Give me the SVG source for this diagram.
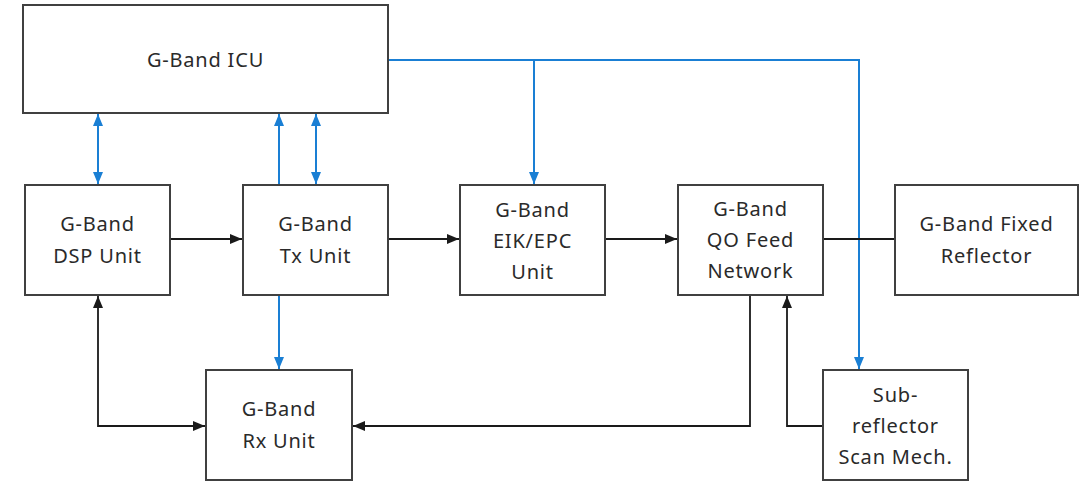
<svg xmlns="http://www.w3.org/2000/svg" width="1092" height="483" viewBox="0 0 1092 483">
<style>
.box{fill:#fff;stroke:#404040;stroke-width:2}
.t{font-family:"Noto Sans","Open Sans",sans-serif;font-size:20px;letter-spacing:0.8px;fill:#2a2a2a;text-anchor:middle}
.k{fill:none;stroke:#1a1a1a;stroke-width:1.8}
.b{fill:none;stroke:#1a7fd4;stroke-width:2}
</style>
<defs>
<marker id="ak" markerUnits="userSpaceOnUse" markerWidth="12" markerHeight="12" viewBox="0 0 12 12" refX="12" refY="6" orient="auto-start-reverse"><path d="M0,1 L12,6 L0,11 z" fill="#1a1a1a"/></marker>
<marker id="ab" markerUnits="userSpaceOnUse" markerWidth="12" markerHeight="12" viewBox="0 0 12 12" refX="12" refY="6" orient="auto-start-reverse"><path d="M0,1 L12,6 L0,11 z" fill="#1a7fd4"/></marker>
</defs>
<rect width="1092" height="483" fill="#fff"/>
<g id="connectors">
<line class="b" x1="98" y1="114" x2="98" y2="184" marker-start="url(#ab)" marker-end="url(#ab)"/>
<line class="b" x1="279" y1="185" x2="279" y2="114" marker-end="url(#ab)"/>
<line class="b" x1="316" y1="114" x2="316" y2="184" marker-start="url(#ab)" marker-end="url(#ab)"/>
<polyline class="b" points="388,60 859,60 859,369" marker-end="url(#ab)"/>
<line class="b" x1="534" y1="60" x2="534" y2="184" marker-end="url(#ab)"/>
<line class="b" x1="279" y1="295" x2="279" y2="369" marker-end="url(#ab)"/>
<line class="k" x1="170" y1="239" x2="242" y2="239" marker-end="url(#ak)"/>
<line class="k" x1="388" y1="239" x2="459" y2="239" marker-end="url(#ak)"/>
<line class="k" x1="605" y1="239" x2="677" y2="239" marker-end="url(#ak)"/>
<line class="k" x1="823" y1="239" x2="895" y2="239"/>
<polyline class="k" points="98,296 98,426 205,426" marker-start="url(#ak)" marker-end="url(#ak)"/>
<polyline class="k" points="750,295 750,426 353,426" marker-end="url(#ak)"/>
<polyline class="k" points="823,426 787,426 787,296" marker-end="url(#ak)"/>
</g>
<g id="icu"><rect class="box" x="23" y="5" width="365" height="108"/><text class="t" x="205.5" y="67">G-Band ICU</text></g>
<g id="dsp"><rect class="box" x="25" y="185" width="145" height="110"/><text class="t" x="97.5" y="231">G-Band</text><text class="t" x="97.5" y="263">DSP Unit</text></g>
<g id="tx"><rect class="box" x="243" y="185" width="145" height="110"/><text class="t" x="315.5" y="231">G-Band</text><text class="t" x="315.5" y="263">Tx Unit</text></g>
<g id="eik"><rect class="box" x="460" y="185" width="145" height="110"/><text class="t" x="532.5" y="217">G-Band</text><text class="t" x="532.5" y="248">EIK/EPC</text><text class="t" x="532.5" y="279">Unit</text></g>
<g id="qo"><rect class="box" x="678" y="185" width="145" height="110"/><text class="t" x="750.5" y="216">G-Band</text><text class="t" x="750.5" y="247">QO Feed</text><text class="t" x="750.5" y="278">Network</text></g>
<g id="fixed"><rect class="box" x="895" y="185" width="183" height="110"/><text class="t" x="986.5" y="231">G-Band Fixed</text><text class="t" x="986.5" y="263">Reflector</text></g>
<g id="rx"><rect class="box" x="206" y="370" width="146" height="110"/><text class="t" x="279" y="416">G-Band</text><text class="t" x="279" y="448">Rx Unit</text></g>
<g id="sub"><rect class="box" x="823" y="370" width="145" height="110"/><text class="t" x="895.5" y="402">Sub-</text><text class="t" x="895.5" y="433">reflector</text><text class="t" x="895.5" y="464">Scan Mech.</text></g>
</svg>
